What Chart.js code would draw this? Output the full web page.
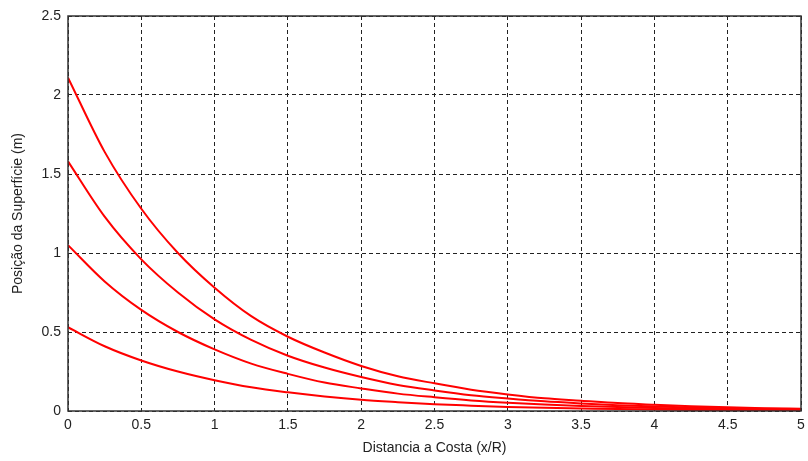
<!DOCTYPE html>
<html>
<head>
<meta charset="utf-8">
<script src="https://cdn.jsdelivr.net/npm/chart.js@4/dist/chart.umd.min.js"></script>
<style>
  html, body { margin: 0; padding: 0; background: #fff; }
  #wrap { width: 808px; height: 461px; }
</style>
</head>
<body>
<div id="wrap"><canvas id="chart"></canvas></div>
<script>
// x positions (x/R)
const xValues = [0, 0.25, 0.5, 0.75, 1, 1.25, 1.5, 1.75, 2, 2.25, 2.5, 2.75, 3, 3.25, 3.5, 3.75, 4, 4.25, 4.5, 4.75, 5];

// surface position (m), highest curve first
const curve1 = [2.11, 1.64, 1.28, 1.00, 0.78, 0.60, 0.47, 0.37, 0.285, 0.22, 0.175, 0.135, 0.105, 0.08, 0.065, 0.05, 0.04, 0.03, 0.023, 0.018, 0.014];
const curve2 = [1.58, 1.23, 0.96, 0.75, 0.58, 0.45, 0.35, 0.275, 0.215, 0.165, 0.13, 0.10, 0.079, 0.061, 0.048, 0.037, 0.029, 0.022, 0.017, 0.014, 0.011];
const curve3 = [1.05, 0.82, 0.64, 0.50, 0.39, 0.30, 0.235, 0.18, 0.143, 0.11, 0.087, 0.067, 0.052, 0.041, 0.032, 0.025, 0.019, 0.015, 0.012, 0.009, 0.007];
const curve4 = [0.53, 0.41, 0.32, 0.25, 0.195, 0.15, 0.118, 0.092, 0.071, 0.056, 0.043, 0.034, 0.026, 0.02, 0.016, 0.012, 0.01, 0.007, 0.006, 0.005, 0.004];

const xTicks = [0, 0.5, 1, 1.5, 2, 2.5, 3, 3.5, 4, 4.5, 5];
const yTicks = [0, 0.5, 1, 1.5, 2, 2.5];

const toPoints = arr => arr.map((y, i) => ({ x: xValues[i], y: y }));

// box around the plot area, like the matlab axes
const boxPlugin = {
    id: 'box',
    afterDraw(chart) {
        const { ctx, chartArea: a } = chart;
        ctx.save();
        ctx.strokeStyle = '#333';
        ctx.lineWidth = 1.5;
        ctx.setLineDash([]);
        ctx.strokeRect(a.left, a.top, a.right - a.left, a.bottom - a.top);
        ctx.restore();
    }
};

const font = { family: '"Liberation Sans", Arial, sans-serif', size: 14 };

new Chart(document.getElementById('chart'), {
    type: 'line',
    data: {
        datasets: [curve1, curve2, curve3, curve4].map(c => ({
            data: toPoints(c),
            borderColor: '#ff0000',
            borderWidth: 2,
            pointRadius: 0,
            cubicInterpolationMode: 'monotone',
            fill: false
        }))
    },
    options: {
        responsive: true,
        maintainAspectRatio: false,
        animation: false,
        layout: { padding: { top: 16, right: 7, left: 0, bottom: 0 } },
        plugins: { legend: { display: false }, tooltip: { enabled: false } },
        scales: {
            x: {
                type: 'linear',
                min: 0, max: 5,
                afterBuildTicks: s => { s.ticks = xTicks.map(v => ({ value: v })); },
                afterFit: s => { s.height = 50; s.paddingRight = 0; s.paddingLeft = 0; },
                ticks: { color: '#222', font: font, padding: 6, maxRotation: 0, callback: v => String(v) },
                grid: { color: '#222', lineWidth: 1, drawTicks: false },
                border: { display: false, dash: [4, 3] },
                title: { display: true, text: 'Distancia a Costa (x/R)', color: '#222', font: font, padding: { top: 4 } }
            },
            y: {
                type: 'linear',
                min: 0, max: 2.5,
                afterBuildTicks: s => { s.ticks = yTicks.map(v => ({ value: v })); },
                afterFit: s => { s.width = 68; },
                ticks: { color: '#222', font: font, padding: 7, callback: v => String(v) },
                grid: { color: '#222', lineWidth: 1, drawTicks: false },
                border: { display: false, dash: [4, 3] },
                title: { display: true, text: 'Posição da Superfície (m)', color: '#222', font: font, padding: { top: 10, bottom: 0 } }
            }
        }
    },
    plugins: [boxPlugin]
});
</script>
</body>
</html>
